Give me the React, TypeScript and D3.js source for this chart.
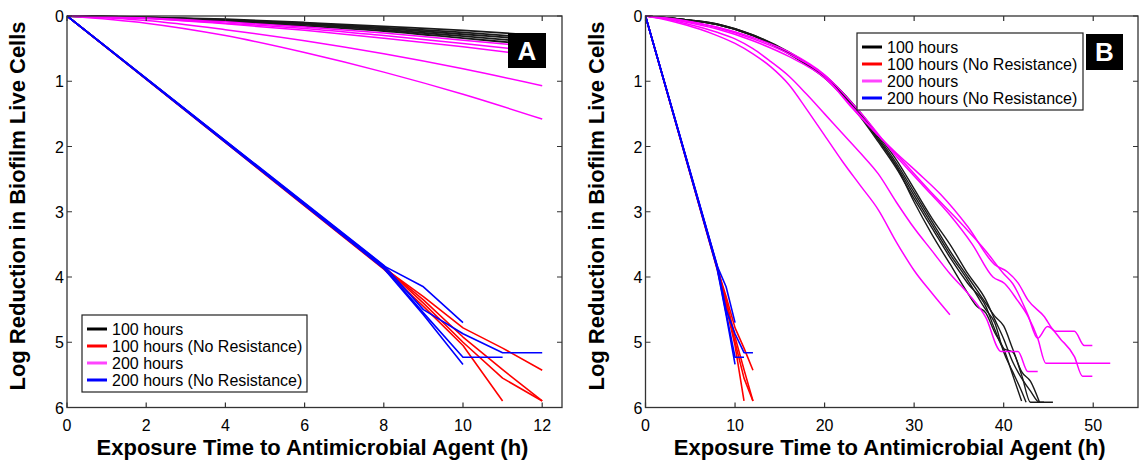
import React, { useEffect, useRef } from "react";
import * as d3 from "d3";

type Pt = [number, number];

// ---- shared: no-resistance runs (same in both panels) ----
const noResBlue: Pt[][] = [
  [[0, 0], [8, 3.83], [9, 4.15], [10, 4.7]],
  [[0, 0], [8, 3.87], [9, 4.58], [10, 5.34]],
  [[0, 0], [8, 3.85], [9, 4.55], [10, 5.23], [11, 5.23]],
  [[0, 0], [8, 3.82], [9, 4.5], [10, 4.87], [11, 5.16], [12, 5.16]],
];
const noResRed: Pt[][] = [
  [[0, 0], [8, 3.86], [9, 4.3], [10, 4.78], [11, 5.09], [12, 5.43]],
  [[0, 0], [8, 3.84], [9, 4.4], [10, 5.0], [11, 5.55], [12, 5.9]],
  [[0, 0], [8, 3.88], [9, 4.45], [10, 5.05], [11, 5.9]],
  [[0, 0], [8, 3.85], [9, 4.35], [10, 4.92], [11, 5.42], [12, 5.9]],
];

// ---- panel A: resistant runs ----
const hoursA = [0, 2, 4, 6, 8, 10, 12];
const black100A = [
  [0, 0.02, 0.05, 0.1, 0.16, 0.22, 0.3],
  [0, 0.02, 0.06, 0.11, 0.18, 0.25, 0.34],
  [0, 0.02, 0.06, 0.12, 0.19, 0.28, 0.37],
  [0, 0.02, 0.07, 0.13, 0.21, 0.31, 0.41],
  [0, 0.03, 0.08, 0.15, 0.23, 0.34, 0.45],
];
const magenta200A = [
  [0, 0.03, 0.09, 0.17, 0.26, 0.37, 0.48],
  [0, 0.04, 0.11, 0.19, 0.3, 0.42, 0.55],
  [0, 0.04, 0.12, 0.22, 0.34, 0.47, 0.62],
  [0, 0.07, 0.21, 0.38, 0.58, 0.81, 1.07],
  [0, 0.11, 0.3, 0.56, 0.86, 1.2, 1.58],
];

// ---- panel B: resistant runs ----
const black100B: Pt[][] = [
  [[0, 0], [4, 0.05], [8, 0.13], [12, 0.3], [16, 0.57], [18, 0.74], [20, 0.94], [22, 1.21], [24, 1.53], [26, 1.9], [28, 2.3], [30, 2.85], [32, 3.35], [34, 3.8], [36, 4.25], [37, 4.45], [38, 4.55], [39, 4.85], [40, 5.1], [41, 5.5], [42, 5.9]],
  [[0, 0], [4, 0.05], [8, 0.13], [12, 0.3], [16, 0.58], [18, 0.75], [20, 0.95], [22, 1.22], [24, 1.55], [26, 1.93], [28, 2.33], [30, 2.8], [32, 3.25], [34, 3.7], [36, 4.1], [38, 4.45], [39, 4.8], [40, 5.1], [41, 5.15], [42, 5.5], [43, 5.92], [44.5, 5.92]],
  [[0, 0], [4, 0.05], [8, 0.12], [12, 0.29], [16, 0.56], [18, 0.73], [20, 0.92], [22, 1.19], [24, 1.5], [26, 1.86], [28, 2.25], [30, 2.7], [32, 3.15], [34, 3.6], [36, 4.0], [38, 4.4], [39, 4.6], [40, 4.75], [41, 5.1], [42, 5.45], [43, 5.6], [44, 5.92]],
  [[0, 0], [4, 0.05], [8, 0.13], [12, 0.3], [16, 0.57], [18, 0.74], [20, 0.94], [22, 1.2], [24, 1.52], [26, 1.89], [28, 2.29], [30, 2.75], [32, 3.2], [34, 3.65], [36, 4.05], [38, 4.5], [39, 4.7], [40, 5.15], [41, 5.45], [42, 5.75], [42.5, 5.92]],
  [[0, 0], [4, 0.05], [8, 0.12], [12, 0.29], [16, 0.55], [18, 0.72], [20, 0.91], [22, 1.17], [24, 1.48], [26, 1.83], [28, 2.2], [30, 2.65], [32, 3.1], [34, 3.5], [36, 3.95], [38, 4.35], [39, 4.65], [40, 4.95], [41, 5.3], [42, 5.55], [43, 5.75], [44, 5.92], [45.5, 5.92]],
];
const magenta200B: Pt[][] = [
  [[0, 0], [2, 0.05], [4, 0.12], [6, 0.2], [8, 0.3], [10, 0.42], [12, 0.58], [14, 0.78], [16, 1.05], [18, 1.43], [20, 1.83], [22, 2.23], [24, 2.6], [26, 2.97], [28, 3.46], [30, 3.9], [32, 4.25], [34, 4.58]],
  [[0, 0], [2, 0.04], [4, 0.1], [6, 0.17], [8, 0.25], [10, 0.35], [12, 0.5], [14, 0.7], [16, 0.92], [18, 1.2], [20, 1.5], [22, 1.8], [24, 2.1], [26, 2.42], [28, 2.85], [30, 3.25], [32, 3.6], [34, 3.95], [36, 4.25], [38, 4.62], [39.7, 5.14], [41.6, 5.14], [42.7, 5.45], [43.8, 5.45]],
  [[0, 0], [4, 0.08], [8, 0.2], [12, 0.38], [16, 0.62], [20, 0.95], [23, 1.38], [26, 1.83], [28, 2.1], [30.4, 2.4], [33, 2.74], [36, 3.23], [39, 3.81], [40.4, 3.92], [41.6, 4.09], [42.7, 4.35], [44.5, 4.6], [45.8, 4.83], [47.9, 4.83], [49, 5.05], [49.9, 5.05]],
  [[0, 0], [4, 0.07], [8, 0.18], [12, 0.35], [16, 0.58], [20, 0.92], [23, 1.4], [27.9, 2.1], [31.6, 2.66], [35.6, 3.23], [38, 3.6], [40, 3.95], [41, 4.1], [42.7, 4.58], [43.8, 4.94], [44.9, 4.76], [46.4, 4.96], [47.9, 5.22], [48.8, 5.52], [49.9, 5.52]],
  [[0, 0], [4, 0.06], [8, 0.17], [12, 0.33], [16, 0.55], [20, 0.9], [24, 1.48], [28, 2.15], [31, 2.6], [34, 3.05], [36.5, 3.5], [38.8, 4.0], [40.1, 4.1], [41.5, 4.35], [42.7, 4.6], [43.8, 4.94], [44.7, 5.32], [51.9, 5.32]],
];

const yTicks = [0, 1, 2, 3, 4, 5, 6];
const xTicksA = [0, 2, 4, 6, 8, 10, 12];
const xTicksB = [0, 10, 20, 30, 40, 50];
const legendLabels = ["100 hours", "100 hours (No Resistance)", "200 hours", "200 hours (No Resistance)"];
const legendColors = ["#000000", "#ff0000", "#ff44ff", "#0000ff"];

const FONT = "'Liberation Sans', Arial, Helvetica, sans-serif";

function toPts(xs: number[], vs: number[]): Pt[] {
  return xs.map((x, i) => [x, vs[i]] as Pt);
}

function App() {
  const svgRef = useRef<SVGSVGElement>(null);
  const width = 1139;
  const height = 461;

  useEffect(() => {
    const svg = d3.select(svgRef.current);
    svg.selectAll("*").remove();

    const panels = [
      {
        id: "A",
        left: 67, right: 562, xMax: 12.5, xTicks: xTicksA,
        black: black100A.map((v) => toPts(hoursA, v)),
        magenta: magenta200A.map((v) => toPts(hoursA, v)),
        legend: { x: 82, y: 315, w: 225, h: 77 },
        badge: { x: 508, y: 33, w: 38, h: 35 },
        yLabelX: 25,
      },
      {
        id: "B",
        left: 645.5, right: 1138, xMax: 55, xTicks: xTicksB,
        black: black100B,
        magenta: magenta200B,
        legend: { x: 857, y: 33, w: 226, h: 77 },
        badge: { x: 1086, y: 34, w: 37, h: 36 },
        yLabelX: 604,
      },
    ];

    const top = 16;
    const bottom = 407.5;

    panels.forEach((p) => {
      const x = d3.scaleLinear().domain([0, p.xMax]).range([p.left, p.right]);
      const y = d3.scaleLinear().domain([0, 6]).range([top, bottom]);
      const g = svg.append("g");

      const defs = svg.append("defs");
      defs.append("clipPath").attr("id", "clip" + p.id)
        .append("rect").attr("x", p.left).attr("y", top - 2)
        .attr("width", p.right - p.left).attr("height", bottom - top + 2);

      const straight = d3.line<Pt>().x((d) => x(d[0])).y((d) => y(d[1]));
      const smooth = d3.line<Pt>().x((d) => x(d[0])).y((d) => y(d[1])).curve(d3.curveMonotoneX);
      const plot = g.append("g").attr("clip-path", `url(#clip${p.id})`);

      const drawSet = (set: Pt[][], color: string, w: number, gen: d3.Line<Pt>) => {
        plot.append("g").selectAll("path").data(set).join("path")
          .attr("d", (d) => gen(d))
          .attr("fill", "none")
          .attr("stroke", color)
          .attr("stroke-width", w)
          .attr("stroke-linejoin", "round");
      };
      drawSet(p.black, "#1a1a1a", p.id === "A" ? 1.8 : 1.4, smooth);
      drawSet(noResRed, "#ff0000", 1.6, straight);
      drawSet(p.magenta, "#ff00ff", 1.5, smooth);
      drawSet(noResBlue, "#0000ff", 1.6, straight);

      // box
      g.append("rect")
        .attr("x", p.left).attr("y", top)
        .attr("width", p.right - p.left).attr("height", bottom - top)
        .attr("fill", "none").attr("stroke", "#333").attr("stroke-width", 1.3);

      // ticks (inward, all four sides)
      const tk = 5;
      g.append("g").selectAll("path").data(p.xTicks).join("path")
        .attr("d", (d) => `M${x(d)},${bottom}V${bottom - tk}M${x(d)},${top}V${top + tk}`)
        .attr("stroke", "#333").attr("stroke-width", 1.2);
      g.append("g").selectAll("path").data(yTicks).join("path")
        .attr("d", (d) => `M${p.left},${y(d)}H${p.left + tk}M${p.right},${y(d)}H${p.right - tk}`)
        .attr("stroke", "#333").attr("stroke-width", 1.2);

      // tick labels
      g.append("g").selectAll("text").data(p.xTicks).join("text")
        .attr("x", (d) => x(d)).attr("y", bottom + 23)
        .attr("text-anchor", "middle")
        .style("font-family", FONT).style("font-size", "16px")
        .text((d) => d);
      g.append("g").selectAll("text").data(yTicks).join("text")
        .attr("x", p.left - 3).attr("y", (d) => y(d) + 6)
        .attr("text-anchor", "end")
        .style("font-family", FONT).style("font-size", "16px")
        .text((d) => d);

      // axis titles
      g.append("text")
        .attr("x", (p.left + p.right) / 2 - 2).attr("y", 455)
        .attr("text-anchor", "middle")
        .style("font-family", FONT).style("font-size", "22px").style("font-weight", "bold")
        .text("Exposure Time to Antimicrobial Agent (h)");
      g.append("text")
        .attr("transform", `translate(${p.yLabelX},206)rotate(-90)`)
        .attr("text-anchor", "middle")
        .style("font-family", FONT).style("font-size", "22px").style("font-weight", "bold")
        .text("Log Reduction in Biofilm Live Cells");

      // panel badge
      g.append("rect")
        .attr("x", p.badge.x).attr("y", p.badge.y)
        .attr("width", p.badge.w).attr("height", p.badge.h).attr("fill", "#000");
      g.append("text")
        .attr("x", p.badge.x + p.badge.w / 2).attr("y", p.badge.y + p.badge.h / 2 + 9)
        .attr("text-anchor", "middle").attr("fill", "#fff")
        .style("font-family", FONT).style("font-size", "26px").style("font-weight", "bold")
        .text(p.id);

      // legend
      const lg = g.append("g").attr("transform", `translate(${p.legend.x},${p.legend.y})`);
      lg.append("rect")
        .attr("width", p.legend.w).attr("height", p.legend.h)
        .attr("fill", "#fff").attr("stroke", "#222").attr("stroke-width", 1.2);
      legendLabels.forEach((lab, i) => {
        const ly = 14 + i * 17;
        lg.append("line")
          .attr("x1", 5).attr("x2", 25).attr("y1", ly).attr("y2", ly)
          .attr("stroke", legendColors[i]).attr("stroke-width", 3);
        lg.append("text")
          .attr("x", 30).attr("y", ly + 5.5)
          .style("font-family", FONT).style("font-size", "16px")
          .text(lab);
      });
    });
  }, []);

  return (
    <svg
      ref={svgRef}
      width={width}
      height={height}
      style={{ position: "absolute", left: 0, top: 0, background: "#fff" }}
    ></svg>
  );
}

export default App;
